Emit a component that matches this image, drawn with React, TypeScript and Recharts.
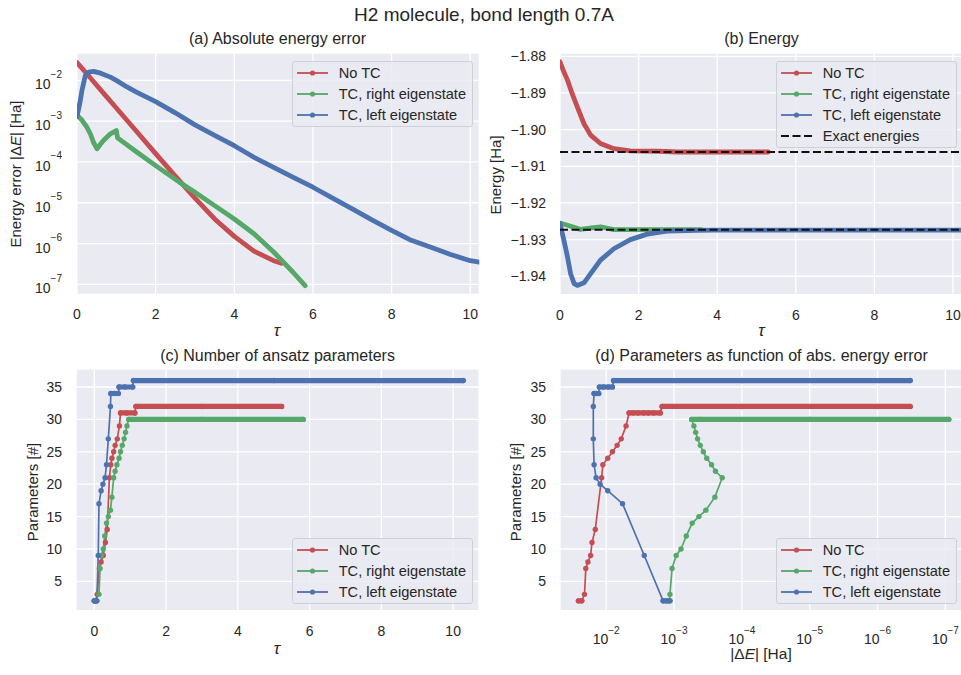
import { LineChart, Line, XAxis, YAxis, CartesianGrid, ReferenceLine } from 'recharts';

const INK = '#262626';
const BG = '#EAEAF2';
const RED = '#C44E52';
const GREEN = '#55A868';
const BLUE = '#4C72B0';

const seriesNames = ['No TC', 'TC, right eigenstate', 'TC, left eigenstate'];
const seriesColors = [RED, GREEN, BLUE];

// (a) absolute energy error vs tau  [tau, |dE|]
const errNoTC: [number, number][] = [
  [0, 2.72e-2], [0.25, 1.45e-2], [0.5, 7.6e-3], [0.75, 4.0e-3], [1.0, 2.1e-3], [1.5, 5.8e-4],
  [2.0, 1.6e-4], [2.5, 4.5e-5], [3.0, 1.3e-5], [3.5, 4.0e-6], [4.0, 1.5e-6], [4.5, 6.5e-7],
  [5.0, 3.8e-7], [5.2, 3.3e-7],
];
const errRight: [number, number][] = [
  [0, 1.4e-3], [0.13, 1.05e-3], [0.25, 7.1e-4], [0.34, 4.9e-4], [0.42, 3.0e-4], [0.51, 2.1e-4],
  [0.6, 2.75e-4], [0.68, 3.4e-4], [0.85, 4.9e-4], [1.0, 5.9e-4], [1.03, 3.9e-4], [1.5, 1.8e-4],
  [2.0, 8.1e-5], [2.6, 3.2e-5], [3.0, 1.8e-5], [3.5, 8.5e-6], [4.0, 4.0e-6], [4.5, 1.74e-6],
  [5.0, 6.2e-7], [5.5, 1.95e-7], [5.8, 9.3e-8],
];
const errLeft: [number, number][] = [
  [0, 1.3e-3], [0.07, 2.7e-3], [0.13, 5.9e-3], [0.21, 1.3e-2], [0.3, 1.6e-2], [0.42, 1.66e-2],
  [0.6, 1.5e-2], [0.85, 1.2e-2], [1.0, 1.0e-2], [1.27, 6.9e-3], [1.5, 5.2e-3], [2.0, 3.0e-3],
  [2.5, 1.6e-3], [3.0, 8.1e-4], [3.5, 4.5e-4], [4.0, 2.5e-4], [4.5, 1.3e-4], [5.0, 7.4e-5],
  [5.5, 4.2e-5], [6.0, 2.4e-5], [6.5, 1.3e-5], [7.0, 7.1e-6], [7.5, 3.8e-6], [8.0, 2.1e-6],
  [8.5, 1.2e-6], [9.0, 8.1e-7], [9.5, 5.4e-7], [10.0, 3.8e-7], [10.23, 3.5e-7],
];

// (b) energy vs tau
const energyNoTC: [number, number][] = [
  [0, -1.8815], [0.1, -1.8843], [0.19, -1.8865], [0.31, -1.8902], [0.44, -1.8938], [0.61, -1.8984],
  [0.78, -1.9015], [1.03, -1.9038], [1.37, -1.9052], [1.79, -1.9058], [2.5, -1.9059], [3.0, -1.9061],
  [4.0, -1.9061], [5.3, -1.9061],
];
const energyRight: [number, number][] = [
  [0, -1.9255], [0.19, -1.9261], [0.52, -1.9272], [0.8, -1.9268], [1.03, -1.9265], [1.37, -1.9273],
  [2.0, -1.9273], [3.6, -1.9273],
];
const energyLeft: [number, number][] = [
  [0, -1.9256], [0.1, -1.9302], [0.19, -1.9347], [0.27, -1.9393], [0.36, -1.942], [0.44, -1.9425],
  [0.61, -1.9418], [0.78, -1.9393], [1.03, -1.9356], [1.37, -1.9325], [1.79, -1.93], [2.22, -1.9285],
  [2.72, -1.9277], [3.49, -1.9275], [3.9, -1.9274], [6.0, -1.9274], [8.0, -1.9274], [10.23, -1.9274],
];
const exactEnergies = [-1.9061, -1.9273];

// (c) number of parameters vs tau
const paramsNoTC: [number, number][] = [
  [0, 2], [0.05, 2], [0.08, 3], [0.14, 7], [0.19, 8], [0.25, 9], [0.31, 11], [0.36, 13], [0.42, 21],
  [0.46, 23], [0.49, 24], [0.54, 25], [0.58, 26], [0.64, 27], [0.7, 29], [0.73, 31], [0.9, 31],
  [1.13, 31], [1.16, 32], [3.0, 32], [5.22, 32],
];
const paramsRight: [number, number][] = [
  [0, 2], [0.13, 3], [0.16, 7], [0.2, 9], [0.25, 10], [0.29, 12], [0.34, 14], [0.39, 15], [0.45, 16],
  [0.49, 18], [0.54, 21], [0.58, 22], [0.63, 23], [0.69, 24], [0.73, 25], [0.78, 26], [0.83, 27],
  [0.87, 28], [0.91, 29], [0.96, 30], [3.0, 30], [5.82, 30],
];
const paramsLeft: [number, number][] = [
  [0, 2], [0.07, 2], [0.11, 9], [0.13, 17], [0.19, 19], [0.24, 20], [0.3, 21], [0.34, 23], [0.39, 27],
  [0.45, 32], [0.46, 34], [0.57, 34], [0.67, 34], [0.69, 35], [0.85, 35], [1.07, 35], [1.09, 36],
  [5.0, 36], [10.28, 36],
];

// (d) parameters vs |dE|
const errParamsNoTC: [number, number][] = [
  [2.57e-2, 2], [2.29e-2, 2], [2.09e-2, 3], [2.0e-2, 7], [1.86e-2, 8], [1.7e-2, 9], [1.62e-2, 11],
  [1.45e-2, 13], [1.17e-2, 21], [1.12e-2, 23], [9.5e-3, 24], [8.1e-3, 25], [6.9e-3, 26], [6.0e-3, 27],
  [5.1e-3, 29], [4.6e-3, 31], [4.0e-3, 31], [3.4e-3, 31], [2.8e-3, 31], [2.4e-3, 31], [2.0e-3, 31],
  [1.6e-3, 31], [1.5e-3, 32], [1.0e-4, 32], [1.0e-6, 32], [3.3e-7, 32],
];
const errParamsRight: [number, number][] = [
  [1.17e-3, 2], [1.15e-3, 3], [1.07e-3, 7], [9.3e-4, 9], [7.9e-4, 10], [6.6e-4, 12], [5.4e-4, 14],
  [4.3e-4, 15], [3.4e-4, 16], [2.5e-4, 18], [1.95e-4, 21], [2.45e-4, 22], [2.8e-4, 23], [3.3e-4, 24],
  [3.7e-4, 25], [4.1e-4, 26], [4.5e-4, 27], [4.8e-4, 28], [5.1e-4, 29], [5.5e-4, 30], [4.0e-4, 30],
  [1.0e-5, 30], [8.9e-8, 30],
];
const errParamsLeft: [number, number][] = [
  [1.15e-3, 2], [1.29e-3, 2], [1.45e-3, 2], [2.75e-3, 9], [5.75e-3, 17], [9.5e-3, 19], [1.23e-2, 20],
  [1.41e-2, 21], [1.51e-2, 23], [1.55e-2, 27], [1.55e-2, 32], [1.51e-2, 34], [1.41e-2, 34],
  [1.29e-2, 34], [1.26e-2, 35], [1.1e-2, 35], [9.3e-3, 35], [8.1e-3, 35], [7.8e-3, 36], [1.0e-4, 36],
  [3.3e-7, 36],
];

const tauTicks = [0, 2, 4, 6, 8, 10];
const errTicks = [1e-7, 1e-6, 1e-5, 1e-4, 1e-3, 1e-2];
const energyTicks = [-1.94, -1.93, -1.92, -1.91, -1.9, -1.89, -1.88];
const paramTicks = [5, 10, 15, 20, 25, 30, 35];

const PADL = 70, PADT = 10, PADR = 10, PADB = 45;

const xy = (arr: [number, number][]) => arr.map(([x, y]) => ({ x, y }));

// split a stepped series into runs so plateaus can be drawn as a dense band
function stepRows(pts: [number, number][]) {
  let run = 0;
  return pts.map(([x, y], i) => {
    if (i > 0 && pts[i - 1][1] !== y) run++;
    const flat = (i > 0 && pts[i - 1][1] === y) || (i < pts.length - 1 && pts[i + 1][1] === y);
    return { x, y, fa: flat && run % 2 === 0 ? y : null, fb: flat && run % 2 === 1 ? y : null };
  });
}

const PowTick = (props: any) => {
  const { x, y, payload, axis } = props;
  const e = Math.round(Math.log10(payload.value));
  const sup = '\u2212' + Math.abs(e);
  if (axis === 'y') {
    return (
      <text x={x} y={y + 9} textAnchor="end" fill={INK} fontSize={14}>
        <tspan>10</tspan>
        <tspan dy={-11.5} fontSize={10}>{sup}</tspan>
      </text>
    );
  }
  return (
    <text x={x} y={y + 33} textAnchor="middle" fill={INK} fontSize={14}>
      <tspan>10</tspan>
      <tspan dy={-10} fontSize={10}>{sup}</tspan>
    </text>
  );
};

const fmtEnergy = (v: number) => (v < 0 ? '\u2212' : '') + Math.abs(v).toFixed(2);

function Text({ x, y, size = 15, rotate = false, children }: any) {
  return (
    <div
      style={{
        position: 'absolute',
        left: x,
        top: y,
        transform: `translate(-50%, -50%)${rotate ? ' rotate(-90deg)' : ''}`,
        fontSize: size,
        lineHeight: 1,
        whiteSpace: 'nowrap',
        color: INK,
      }}
    >
      {children}
    </div>
  );
}

function Legend({ left, top, dashed }: { left: number; top: number; dashed?: string }) {
  const rows = seriesNames.map((n, i) => ({ name: n, color: seriesColors[i], dash: false }));
  if (dashed) rows.push({ name: dashed, color: '#111', dash: true });
  return (
    <div
      style={{
        position: 'absolute',
        left,
        top,
        width: 181,
        height: rows.length * 21 + 3,
        background: 'rgba(234,234,242,0.85)',
        border: '1px solid #cfcfd6',
        borderRadius: 3,
        boxSizing: 'border-box',
      }}
    >
      {rows.map((r, i) => (
        <div key={r.name} style={{ position: 'absolute', left: 4, top: 1 + i * 21, height: 20, display: 'flex', alignItems: 'center' }}>
          <svg width={31} height={10} style={{ display: 'block' }}>
            {r.dash ? (
              <line x1={0} y1={5} x2={31} y2={5} stroke={r.color} strokeWidth={2} strokeDasharray="8 3.5" />
            ) : (
              <>
                <line x1={0} y1={5} x2={31} y2={5} stroke={r.color} strokeWidth={1.8} />
                <circle cx={15.5} cy={5} r={2.6} fill={r.color} />
              </>
            )}
          </svg>
          <span style={{ marginLeft: 11, fontSize: 14.6, color: INK }}>{r.name}</span>
        </div>
      ))}
    </div>
  );
}

const axisCommon = {
  tickLine: false,
  axisLine: false,
  tickSize: 0,
  allowDataOverflow: true,
  type: 'number' as const,
};
const tickStyle = { fill: INK, fontSize: 14 };

function thickLine(data: any[], color: string, key: string) {
  return (
    <Line
      key={key}
      data={data}
      dataKey="y"
      stroke={color}
      strokeWidth={4.8}
      strokeLinecap="round"
      strokeLinejoin="round"
      dot={false}
      isAnimationActive={false}
    />
  );
}

function stepLines(pts: [number, number][], color: string, key: string) {
  const rows = stepRows(pts);
  return [
    <Line key={key + 'y'} data={rows} dataKey="y" stroke={color} strokeWidth={1.7} dot={{ r: 2.7, fill: color, stroke: 'none' }} isAnimationActive={false} />,
    <Line key={key + 'a'} data={rows} dataKey="fa" stroke={color} strokeWidth={5.2} strokeLinecap="round" dot={false} connectNulls={false} isAnimationActive={false} />,
    <Line key={key + 'b'} data={rows} dataKey="fb" stroke={color} strokeWidth={5.2} strokeLinecap="round" dot={false} connectNulls={false} isAnimationActive={false} />,
  ];
}

function box(x0: number, y0: number, w: number, h: number) {
  return {
    style: { position: 'absolute' as const, left: x0 - PADL, top: y0 - PADT },
    width: w + PADL + PADR,
    height: h + PADT + PADB,
  };
}

export default function App() {
  const A = box(76.7, 52.7, 402.3, 241.3);
  const B = box(559.5, 52.7, 402, 241.6);
  const C = box(76, 369.3, 403, 241.7);
  const D = box(560, 369.3, 407, 241.7);
  const margin = { top: PADT, right: PADR, left: 0, bottom: 0 };

  return (
    <div
      style={{
        position: 'absolute',
        left: 0,
        top: 0,
        width: 961,
        height: 675,
        overflow: 'hidden',
        background: '#fff',
        fontFamily: '"Liberation Sans", Arial, sans-serif',
        color: INK,
      }}
    >
      {/* (a) */}
      <div style={A.style}>
        <LineChart width={A.width} height={A.height} margin={margin}>
          <CartesianGrid fill={BG} fillOpacity={1} stroke="#fff" strokeWidth={1.3} />
          <XAxis {...axisCommon} dataKey="x" domain={[0, 10.23]} ticks={tauTicks} height={PADB} tickMargin={15} tick={tickStyle} />
          <YAxis {...axisCommon} scale="log" domain={[5.7e-8, 4.68e-2]} ticks={errTicks} width={PADL} tickMargin={15} tick={<PowTick axis="y" />} />
          {thickLine(xy(errNoTC), RED, 'r')}
          {thickLine(xy(errRight), GREEN, 'g')}
          {thickLine(xy(errLeft), BLUE, 'b')}
        </LineChart>
      </div>

      {/* (b) */}
      <div style={B.style}>
        <LineChart width={B.width} height={B.height} margin={margin}>
          <CartesianGrid fill={BG} fillOpacity={1} stroke="#fff" strokeWidth={1.3} />
          <XAxis {...axisCommon} dataKey="x" domain={[0, 10.23]} ticks={tauTicks} height={PADB} tickMargin={15} tick={tickStyle} />
          <YAxis {...axisCommon} domain={[-1.945, -1.8791]} ticks={energyTicks} width={PADL} tickMargin={14} tick={tickStyle} tickFormatter={fmtEnergy} />
          {thickLine(xy(energyNoTC), RED, 'r')}
          {thickLine(xy(energyRight), GREEN, 'g')}
          {thickLine(xy(energyLeft), BLUE, 'b')}
          {exactEnergies.map((e) => (
            <ReferenceLine key={e} y={e} stroke="#111" strokeWidth={2} strokeDasharray="8 3.5" />
          ))}
        </LineChart>
      </div>

      {/* (c) */}
      <div style={C.style}>
        <LineChart width={C.width} height={C.height} margin={margin}>
          <CartesianGrid fill={BG} fillOpacity={1} stroke="#fff" strokeWidth={1.3} />
          <XAxis {...axisCommon} dataKey="x" domain={[-0.51, 10.72]} ticks={tauTicks} height={PADB} tickMargin={15} tick={tickStyle} />
          <YAxis {...axisCommon} domain={[0.48, 37.78]} ticks={paramTicks} width={PADL} tickMargin={14} tick={tickStyle} />
          {stepLines(paramsNoTC, RED, 'r')}
          {stepLines(paramsRight, GREEN, 'g')}
          {stepLines(paramsLeft, BLUE, 'b')}
        </LineChart>
      </div>

      {/* (d) */}
      <div style={D.style}>
        <LineChart width={D.width} height={D.height} margin={margin}>
          <CartesianGrid fill={BG} fillOpacity={1} stroke="#fff" strokeWidth={1.3} />
          <XAxis {...axisCommon} dataKey="x" scale="log" reversed domain={[4.8e-8, 4.8e-2]} ticks={errTicks} height={PADB} tickMargin={0} tick={<PowTick axis="x" />} />
          <YAxis {...axisCommon} domain={[0.48, 37.78]} ticks={paramTicks} width={PADL} tickMargin={14} tick={tickStyle} />
          {stepLines(errParamsNoTC, RED, 'r')}
          {stepLines(errParamsRight, GREEN, 'g')}
          {stepLines(errParamsLeft, BLUE, 'b')}
        </LineChart>
      </div>

      {/* titles and labels */}
      <Text x={484} y={14} size={19}>H2 molecule, bond length 0.7A</Text>
      <Text x={277.5} y={39} size={16}>(a) Absolute energy error</Text>
      <Text x={761.5} y={39} size={16}>(b) Energy</Text>
      <Text x={277.5} y={356} size={16}>(c) Number of ansatz parameters</Text>
      <Text x={761.5} y={356} size={16}>(d) Parameters as function of abs. energy error</Text>

      <Text x={15} y={174} rotate>
        Energy error |Δ<i>E</i>| [Ha]
      </Text>
      <Text x={495} y={175} rotate>Energy [Ha]</Text>
      <Text x={31.5} y={491.5} rotate>Parameters [#]</Text>
      <Text x={515} y={491.5} rotate>Parameters [#]</Text>

      <Text x={277} y={330} size={17}><i>τ</i></Text>
      <Text x={761.5} y={330} size={17}><i>τ</i></Text>
      <Text x={277} y={648} size={17}><i>τ</i></Text>
      <Text x={761} y={654} size={15.5}>
        |Δ<i>E</i>| [Ha]
      </Text>

      <Legend left={291.7} top={60.7} />
      <Legend left={775.7} top={60.7} dashed="Exact energies" />
      <Legend left={291.7} top={538.3} />
      <Legend left={775.7} top={538.3} />
    </div>
  );
}
